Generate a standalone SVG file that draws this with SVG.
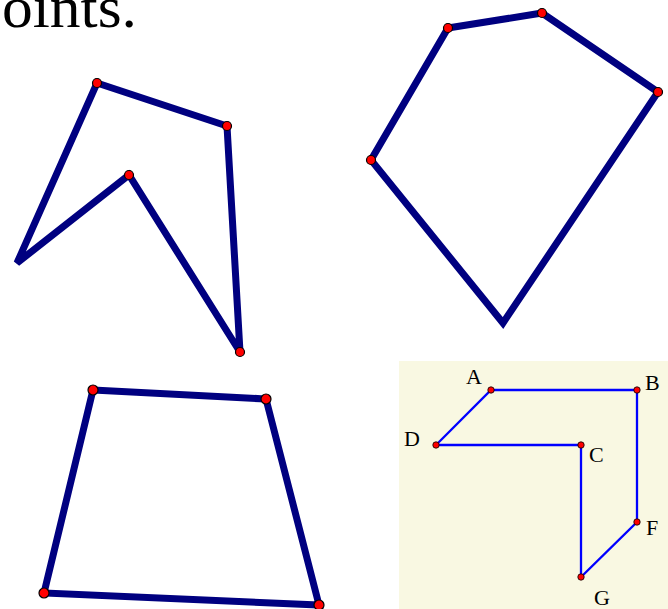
<svg xmlns="http://www.w3.org/2000/svg" width="668" height="609" viewBox="0 0 668 609">
<style>
.poly{fill:none;stroke:#000080;stroke-width:7;stroke-linejoin:miter}
.pt{fill:#ff0000;stroke:#000;stroke-width:1.2}
.thin{fill:none;stroke:#0000ff;stroke-width:2.3}
.ptt{fill:#ff0000;stroke:#000;stroke-width:0.8}
.lbl{font-family:"Liberation Serif",serif;font-size:22px;fill:#000}
</style>
<rect width="668" height="609" fill="#fff"/>
<text x="2" y="27" font-family="Liberation Serif, serif" font-size="60" fill="#000" textLength="135" lengthAdjust="spacingAndGlyphs">oints.</text>
<g id="poly1">
<polygon class="poly" points="97,83 227,126 240,352 129,175 17,263"/>
<circle class="pt" cx="97" cy="83" r="4.5"/>
<circle class="pt" cx="227" cy="126" r="4.5"/>
<circle class="pt" cx="240" cy="352" r="4.5"/>
<circle class="pt" cx="129" cy="175" r="4.5"/>
</g>
<g id="poly2">
<polygon class="poly" points="448,28 542,13 658,92 503,323 371,160"/>
<circle class="pt" cx="448" cy="28" r="4.5"/>
<circle class="pt" cx="542" cy="13" r="4.5"/>
<circle class="pt" cx="658" cy="92" r="4.5"/>
<circle class="pt" cx="371" cy="160" r="4.5"/>
</g>
<g id="poly3">
<polygon class="poly" points="93,390 266,399 319,605 44,593"/>
<circle class="pt" cx="93" cy="390" r="5"/>
<circle class="pt" cx="266" cy="399" r="5"/>
<circle class="pt" cx="319" cy="605" r="5"/>
<circle class="pt" cx="44" cy="593" r="5"/>
</g>
<g id="figure">
<rect x="399" y="361" width="269" height="248" fill="#f9f8e2"/>
<polygon class="thin" points="491,390 637,390 637,522 581,577 581,445 436,445"/>
<circle class="ptt" cx="491" cy="390" r="3.2"/>
<circle class="ptt" cx="637" cy="390" r="3.2"/>
<circle class="ptt" cx="581" cy="445" r="3.2"/>
<circle class="ptt" cx="436" cy="445" r="3.2"/>
<circle class="ptt" cx="637" cy="522" r="3.2"/>
<circle class="ptt" cx="581" cy="577" r="3.2"/>
<text class="lbl" x="466" y="384">A</text>
<text class="lbl" x="645" y="390">B</text>
<text class="lbl" x="589" y="462">C</text>
<text class="lbl" x="404" y="446">D</text>
<text class="lbl" x="646" y="535">F</text>
<text class="lbl" x="594" y="605">G</text>
</g>
</svg>
